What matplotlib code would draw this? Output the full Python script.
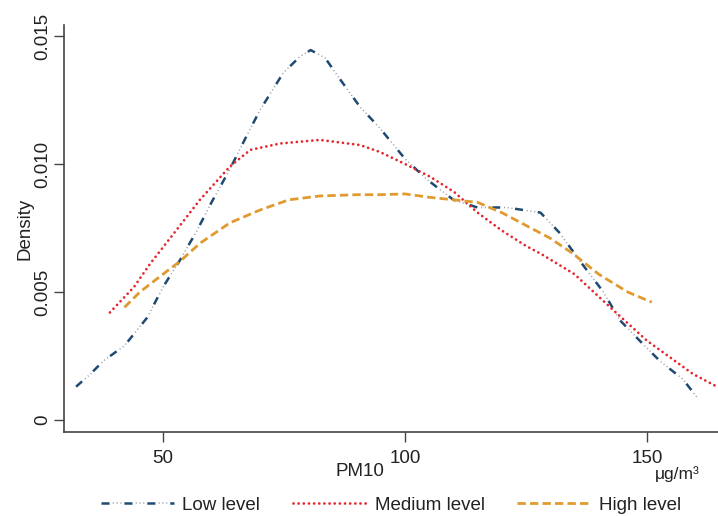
import matplotlib
matplotlib.use("Agg")
import matplotlib.pyplot as plt
from matplotlib.legend_handler import HandlerTuple

plt.rcParams['font.family'] = ['Liberation Sans', 'DejaVu Sans']
plt.rcParams['lines.scale_dashes'] = False

# ---- data ----
low_x = [32, 35, 37.6, 42, 46.7, 50, 53.5, 57, 60, 63.8, 67, 70, 74.8, 78.3, 80.5,
         83.5, 86.6, 90.7, 94.8, 100, 104.5, 110, 115, 121, 128, 132, 136, 141,
         144.4, 148.5, 152.7, 157.4, 160.3]
low_y = [0.0013, 0.0018, 0.0023, 0.0029, 0.0040, 0.0052, 0.00625, 0.0074, 0.0085,
         0.0098, 0.0110, 0.0121, 0.01355, 0.0142, 0.01445, 0.01414, 0.0133,
         0.01223, 0.0114, 0.0102, 0.0094, 0.0086, 0.0083, 0.0083, 0.0081, 0.0073,
         0.00625, 0.0050, 0.0039, 0.0031, 0.0023, 0.0016, 0.0009]

med_x = [39, 44, 47.3, 53.5, 57.6, 63.8, 68, 74.2, 82.4, 90.7, 94.8, 100, 105.2,
         110.2, 115, 120, 125, 128, 135, 143, 150, 159.5, 164.5]
med_y = [0.0042, 0.0052, 0.0061, 0.0076, 0.0086, 0.0099, 0.01055, 0.0108, 0.01094,
         0.01074, 0.01047, 0.0100, 0.0095, 0.0089, 0.0081, 0.0074, 0.0068, 0.0065,
         0.0057, 0.0043, 0.0031, 0.0018, 0.0013]

high_x = [42, 45.2, 50, 53.5, 57.6, 63.8, 70, 76, 82.4, 90, 94.8, 100, 105, 110,
          115, 120, 125, 130, 134.7, 140, 146, 151]
high_y = [0.0044, 0.0050, 0.0057, 0.0062, 0.0069, 0.0077, 0.0082, 0.0086, 0.00875,
          0.0088, 0.0088, 0.00883, 0.0087, 0.0086, 0.0085, 0.0081, 0.0076, 0.0071,
          0.0065, 0.0057, 0.0050, 0.0046]

series_labels = ["Low level", "Medium level", "High level"]
x_ticks = [50, 100, 150]
y_ticks = [0, 0.005, 0.010, 0.015]
y_ticklabels = ["0", "0.005", "0.010", "0.015"]

# ---- figure ----
fig = plt.figure(figsize=(7.18, 5.16), dpi=100)
ax = fig.add_axes([0.0891, 0.1628, 0.9109, 0.7888])

navy = '#1f4a72'
grey = '#98a2ac'
red = '#e5262c'
orange = '#e09a30'

l_blue, = ax.plot(low_x, low_y, color=navy, lw=1.8, linestyle=(0, (5.8, 10.7)),
                  dash_capstyle='butt')
l_grey, = ax.plot(low_x, low_y, color=grey, lw=1.1,
                  linestyle=(8.0, (0.8, 1.9, 0.8, 1.9, 0.8, 10.3)),
                  dash_capstyle='butt')
l_red, = ax.plot(med_x, med_y, color=red, lw=2.0, linestyle=(0, (0.01, 3.7)),
                 dash_capstyle='round')
l_orange, = ax.plot(high_x, high_y, color=orange, lw=2.0, linestyle=(0, (6.0, 3.0)),
                    dash_capstyle='butt')

ax.set_xlim(29.5, 164.7)
ax.set_ylim(-0.00047, 0.01543)
ax.spines['top'].set_visible(False)
ax.spines['right'].set_visible(False)
for s in ('left', 'bottom'):
    ax.spines[s].set_color('#444444')
    ax.spines[s].set_linewidth(1.2)

ax.set_xticks(x_ticks)
ax.set_xticklabels([str(t) for t in x_ticks])
ax.set_yticks(y_ticks)
ax.set_yticklabels(y_ticklabels, rotation=90, va='center')
ax.tick_params(axis='both', length=7, width=1.0, color='#444444', labelsize=13.5,
               labelcolor='#222222')
ax.tick_params(axis='x', pad=6)
ax.tick_params(axis='y', pad=2)

ax.set_ylabel("Density", fontsize=13.5, color='#222222', labelpad=1)
fig.text(360 / 718, 1 - 472 / 516, "PM10", ha='center', va='center',
         fontsize=13.5, color='#222222')
fig.text(677 / 718, 1 - 474 / 516, "μg/m³", ha='center', va='center',
         fontsize=12.5, color='#222222')

leg = fig.legend([(l_blue, l_grey), l_red, l_orange], series_labels,
                 handler_map={tuple: HandlerTuple(ndivide=1)},
                 loc='center', bbox_to_anchor=(391 / 718, 1 - 505 / 516), ncol=3,
                 frameon=False, fontsize=13.5, handlelength=3.9, handletextpad=0.45,
                 columnspacing=1.75)
for t in leg.get_texts():
    t.set_color('#222222')

fig.savefig("out.png", dpi=100)
